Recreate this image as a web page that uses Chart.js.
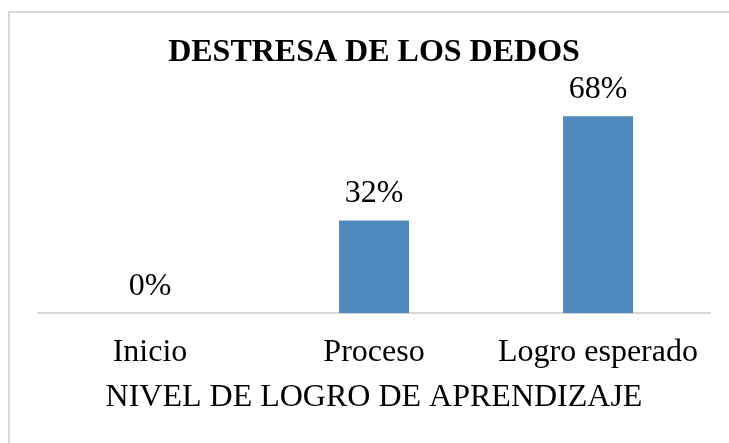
<!DOCTYPE html>
<html lang="es">
	<head>
		<meta charset="UTF-8" />
		<title>Destresa de los dedos</title>
		<script src="https://cdn.jsdelivr.net/npm/chart.js@4/dist/chart.umd.min.js"></script>
		<style>
			html, body { margin: 0; padding: 0; background: #fff; }
			#wrap { width: 729px; height: 443px; }
		</style>
	</head>
	<body>
		<div id="wrap"><canvas id="myChart"></canvas></div>

		<script>
			const categories = ["Inicio", "Proceso", "Logro esperado"];
			const percentages = [0, 32, 68];
			const chartTitle = "DESTRESA DE LOS DEDOS";
			const axisTitle = "NIVEL DE LOGRO DE APRENDIZAJE";

			const serif = "'Times New Roman', 'Liberation Serif', serif";

			// light grey frame around the chart, like the office export
			const frame = {
				id: "frame",
				beforeDraw(chart) {
					const { ctx } = chart;
					ctx.save();
					ctx.fillStyle = "#ffffff";
					ctx.fillRect(0, 0, chart.width, chart.height);
					ctx.strokeStyle = "#d9d9d9";
					ctx.lineWidth = 2;
					ctx.strokeRect(9, 12, 1000, 1000);
					ctx.restore();
				},
			};

			// value labels above each bar
			const valueLabels = {
				id: "valueLabels",
				afterDatasetsDraw(chart) {
					const { ctx } = chart;
					const meta = chart.getDatasetMeta(0);
					ctx.save();
					ctx.font = "32px " + serif;
					ctx.fillStyle = "#000";
					ctx.textAlign = "center";
					ctx.textBaseline = "middle";
					meta.data.forEach((bar, i) => {
						ctx.fillText(percentages[i] + "%", bar.x, bar.y - 27);
					});
					ctx.restore();
				},
			};

			new Chart(document.getElementById("myChart"), {
				type: "bar",
				data: {
					labels: categories,
					datasets: [
						{
							data: percentages,
							backgroundColor: "#4F89BD",
							borderWidth: 0,
							categoryPercentage: 1,
							barPercentage: 0.3125,
						},
					],
				},
				options: {
					responsive: true,
					maintainAspectRatio: false,
					animation: false,
					layout: { padding: { left: 38, right: 19, top: 0, bottom: 26 } },
					plugins: {
						legend: { display: false },
						tooltip: { enabled: false },
						title: {
							display: true,
							text: chartTitle,
							color: "#000",
							font: { family: serif, size: 32, weight: "bold", lineHeight: 1.2 },
							padding: { top: 34, bottom: 9 },
						},
					},
					scales: {
						x: {
							grid: { display: false },
							border: { display: true, color: "#d9d9d9", width: 2 },
							ticks: { color: "#000", padding: 12, font: { family: serif, size: 32, lineHeight: 1.2 } },
							title: {
								display: true,
								text: axisTitle,
								color: "#000",
								font: { family: serif, size: 32, lineHeight: 1.2 },
								padding: { top: -5, bottom: 0 },
							},
						},
						y: { display: false, min: 0, max: 80 },
					},
				},
				plugins: [frame, valueLabels],
			});
		</script>
	</body>
</html>
